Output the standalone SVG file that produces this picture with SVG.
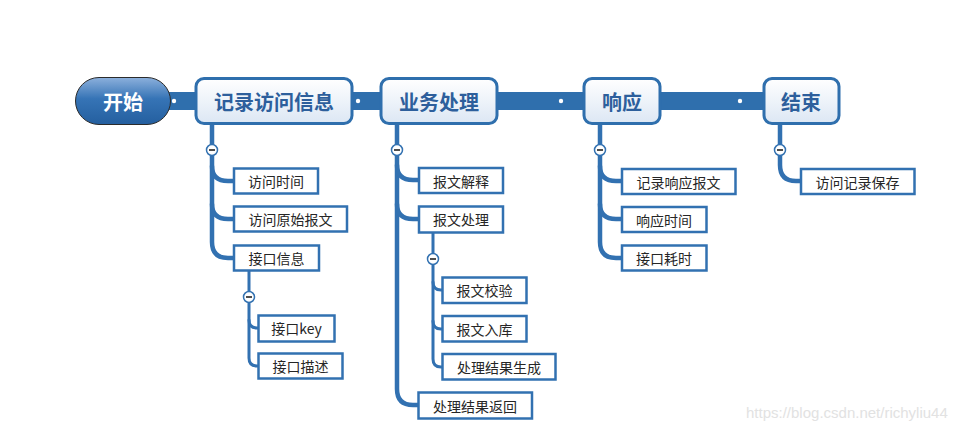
<svg xmlns="http://www.w3.org/2000/svg" width="970" height="432" viewBox="0 0 970 432">
<defs>
<linearGradient id="gStart" x1="0" y1="0" x2="0" y2="1">
<stop offset="0" stop-color="#8cb0dc"/>
<stop offset="0.45" stop-color="#3674b6"/>
<stop offset="1" stop-color="#245f9f"/>
</linearGradient>
<linearGradient id="gMain" x1="0" y1="0" x2="0" y2="1">
<stop offset="0" stop-color="#ffffff"/>
<stop offset="1" stop-color="#dce7f4"/>
</linearGradient>
</defs>
<style>
.bar{fill:#2f6fad}
.dot{fill:#ffffff}
.main{fill:url(#gMain);stroke:#2f6fad;stroke-width:3}
.mtext{font-family:"Noto Sans CJK SC","Noto Sans",sans-serif;font-size:20px;font-weight:bold;fill:#2d5f9c;text-anchor:middle;dominant-baseline:central}
.child{fill:#ffffff;stroke:#3271b1;stroke-width:2.5}
.ctext{font-family:"Noto Sans CJK SC","Noto Sans",sans-serif;font-size:14px;fill:#262626;text-anchor:middle;dominant-baseline:central}
.trunk{fill:none;stroke:#3271b1;stroke-width:4.5;stroke-linecap:round}
.sub{fill:none;stroke:#3271b1;stroke-width:3;stroke-linecap:round}
.tog{fill:#ffffff;stroke:#3271b1;stroke-width:1.5}
.minus{stroke:#222;stroke-width:1.6}
.wm{font-family:"Liberation Sans",Arial,sans-serif;font-size:15px;fill:#e2e2e2}
</style>
<rect width="970" height="432" fill="#ffffff"/>

<g id="connectors">
<rect class="bar" x="165" y="92" width="605" height="18"/>
<!-- node1 trunk -->
<path class="trunk" d="M212 124 V242 Q212 258 228 258 H234"/>
<path class="trunk" d="M212 166 Q212 181 228 181 H234"/>
<path class="trunk" d="M212 204 Q212 219 228 219 H234"/>
<!-- 接口信息 sub -->
<path class="sub" d="M249 271 V358 Q249 366 257 366 H259"/>
<path class="sub" d="M249 320 Q249 328 257 328 H259"/>
<!-- node2 trunk -->
<path class="trunk" d="M397 124 V389 Q397 405 413 405 H419"/>
<path class="trunk" d="M397 165 Q397 180 413 180 H419"/>
<path class="trunk" d="M397 204 Q397 219 413 219 H419"/>
<!-- 报文处理 sub -->
<path class="sub" d="M433 233 V359 Q433 367 441 367 H443"/>
<path class="sub" d="M433 282 Q433 290 441 290 H443"/>
<path class="sub" d="M433 321 Q433 329 441 329 H443"/>
<!-- node3 trunk -->
<path class="trunk" d="M600 124 V242 Q600 258 616 258 H622"/>
<path class="trunk" d="M600 166 Q600 181 616 181 H622"/>
<path class="trunk" d="M600 204 Q600 219 616 219 H622"/>
<!-- node4 trunk -->
<path class="trunk" d="M780 124 V165 Q780 181 796 181 H801"/>
<!-- toggles -->
<circle class="tog" cx="212" cy="150" r="5.5"/><line class="minus" x1="209" y1="150" x2="215" y2="150"/>
<circle class="tog" cx="249" cy="297" r="5.5"/><line class="minus" x1="246" y1="297" x2="252" y2="297"/>
<circle class="tog" cx="397" cy="150" r="5.5"/><line class="minus" x1="394" y1="150" x2="400" y2="150"/>
<circle class="tog" cx="433" cy="259" r="5.5"/><line class="minus" x1="430" y1="259" x2="436" y2="259"/>
<circle class="tog" cx="600" cy="150" r="5.5"/><line class="minus" x1="597" y1="150" x2="603" y2="150"/>
<circle class="tog" cx="780" cy="150" r="5.5"/><line class="minus" x1="777" y1="150" x2="783" y2="150"/>
<!-- dots -->
<circle class="dot" cx="174" cy="101" r="2.2"/>
<circle class="dot" cx="358" cy="101" r="2.2"/>
<circle class="dot" cx="561" cy="101" r="2.2"/>
<circle class="dot" cx="740" cy="101" r="2.2"/>
</g>

<g id="start">
<rect x="75.5" y="77.5" width="95" height="47" rx="23.5" fill="url(#gStart)" stroke="#2b2b2b" stroke-width="1"/>
<text x="123" y="101" font-family="'Noto Sans CJK SC','Noto Sans',sans-serif" font-size="20" font-weight="bold" fill="#ffffff" text-anchor="middle" dominant-baseline="central">开始</text>
</g>

<g id="n1"><rect class="main" x="196" y="78.5" width="156" height="45" rx="8"/><text class="mtext" x="274" y="101">记录访问信息</text></g>
<g id="n2"><rect class="main" x="381" y="78.5" width="116" height="45" rx="8"/><text class="mtext" x="439" y="101">业务处理</text></g>
<g id="n3"><rect class="main" x="584" y="78.5" width="76" height="45" rx="8"/><text class="mtext" x="622" y="101">响应</text></g>
<g id="n4"><rect class="main" x="764" y="78.5" width="75" height="45" rx="8"/><text class="mtext" x="801" y="101">结束</text></g>

<g id="c1"><rect class="child" x="234" y="168.5" width="84" height="25"/><text class="ctext" x="276" y="181">访问时间</text></g>
<g id="c2"><rect class="child" x="234" y="206.5" width="113" height="25"/><text class="ctext" x="290.5" y="219">访问原始报文</text></g>
<g id="c3"><rect class="child" x="234" y="245.5" width="85" height="25"/><text class="ctext" x="276.5" y="258">接口信息</text></g>
<g id="c4"><rect class="child" x="258.5" y="315.5" width="76" height="26"/><text class="ctext" x="296.5" y="328">接口key</text></g>
<g id="c5"><rect class="child" x="258.5" y="353.5" width="84" height="25"/><text class="ctext" x="300.5" y="366">接口描述</text></g>

<g id="c6"><rect class="child" x="419" y="168" width="84" height="25"/><text class="ctext" x="461" y="180.5">报文解释</text></g>
<g id="c7"><rect class="child" x="419" y="206.5" width="84" height="26"/><text class="ctext" x="461" y="219">报文处理</text></g>
<g id="c8"><rect class="child" x="442.5" y="277.5" width="84" height="25.5"/><text class="ctext" x="484.5" y="290">报文校验</text></g>
<g id="c9"><rect class="child" x="442.5" y="316" width="84" height="25.5"/><text class="ctext" x="484.5" y="329">报文入库</text></g>
<g id="c10"><rect class="child" x="442.5" y="354" width="113" height="25.5"/><text class="ctext" x="499" y="367">处理结果生成</text></g>
<g id="c11"><rect class="child" x="418.5" y="392.5" width="113.5" height="26"/><text class="ctext" x="475" y="405.5">处理结果返回</text></g>

<g id="c12"><rect class="child" x="622" y="169" width="113.5" height="25"/><text class="ctext" x="678.5" y="181.5">记录响应报文</text></g>
<g id="c13"><rect class="child" x="622" y="207" width="84.5" height="25"/><text class="ctext" x="664" y="219.5">响应时间</text></g>
<g id="c14"><rect class="child" x="622" y="245.5" width="84.5" height="25"/><text class="ctext" x="664" y="258">接口耗时</text></g>

<g id="c15"><rect class="child" x="801" y="169" width="113.5" height="25"/><text class="ctext" x="857.5" y="181.5">访问记录保存</text></g>

<text class="wm" x="746" y="418">https://blog.csdn.net/richyliu44</text>
</svg>
